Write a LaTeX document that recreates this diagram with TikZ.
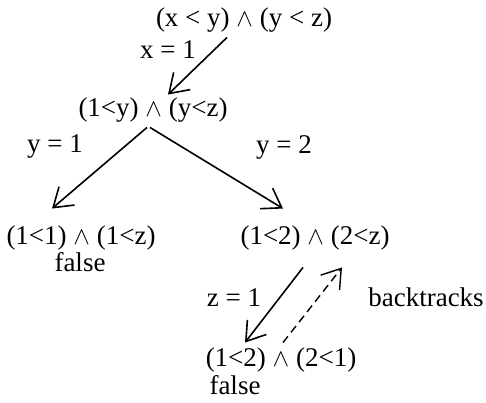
\documentclass[tikz,border=0pt]{standalone}
\usepackage{fontspec}
\setmainfont{Liberation Serif}
\usetikzlibrary{arrows.meta}
\begin{document}
\begin{tikzpicture}[x=1pt, y=1pt,
		every node/.style={inner sep=0pt, font=\fontsize{27}{32}\selectfont},
		>={Straight Barb[length=18pt, width=24pt]},
		arr/.style={->, line width=1.6pt},
		back/.style={->, line width=1.4pt, dash pattern=on 8pt off 5pt}]
			\useasboundingbox (0,0) rectangle (486,403);
			\node (root) at (244,383) {(x < y) $\wedge$ (y < z)};
			\node (n1) at (153,293) {(1<y) $\wedge$ (y<z)};
			\node (nl) at (81,165) {(1<1) $\wedge$ (1<z)};
			\node (fl) at (80,141) {false};
			\node (nr) at (315,165) {(1<2) $\wedge$ (2<z)};
			\node (nb) at (281,43) {(1<2) $\wedge$ (2<1)};
			\node (fb) at (235,18) {false};
			\node (lx) at (168,353) {x = 1};
			\node (ly1) at (55,256) {y = 1};
			\node (ly2) at (284,256) {y = 2};
			\node (lz) at (234,105) {z = 1};
			\node (lbt) at (426,106) {backtracks};
			\draw[arr] ([xshift=-17pt, yshift=-5pt]root.south) -- ([xshift=15pt, yshift=3pt]n1.north);
			\draw[arr] ([xshift=-6pt, yshift=-5pt]n1.south) -- ([xshift=-29pt, yshift=17pt]nl.north);
			\draw[arr] ([xshift=-3pt, yshift=-5pt]n1.south) -- ([xshift=-32pt, yshift=17pt]nr.north);
			\draw[arr] ([xshift=-12pt, yshift=-17pt]nr.south) -- ([xshift=-36pt, yshift=5pt]nb.north);
			\draw[back] ([xshift=2pt, yshift=5pt]nb.north) -- ([xshift=27pt, yshift=-17pt]nr.south);
		\end{tikzpicture}
\end{document}
